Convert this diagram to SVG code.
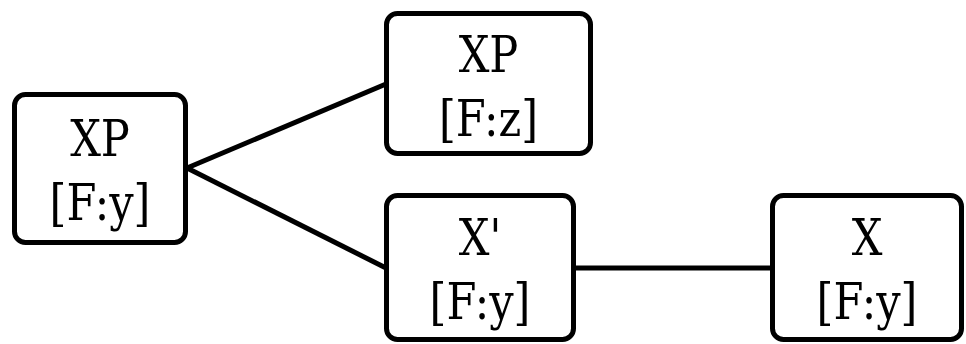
<svg xmlns="http://www.w3.org/2000/svg" width="966" height="344" viewBox="0 0 966 344">
<style>
.box{fill:#fff;stroke:#000;stroke-width:5}
.edge{stroke:#000;stroke-width:5;fill:none}
text{font-family:"DejaVu Serif","Liberation Serif",serif;font-stretch:condensed;font-size:51px;text-anchor:middle;fill:#000}
</style>
<rect width="966" height="344" fill="#fff"/>
<g id="connectors">
<line class="edge" x1="187" y1="168" x2="386" y2="84"/>
<line class="edge" x1="187" y1="168" x2="386" y2="268"/>
<line class="edge" x1="574" y1="268" x2="772" y2="268"/>
</g>
<g id="n1">
<rect class="box" x="14.5" y="94.5" width="171" height="148" rx="11"/>
<g transform="translate(100,0) scale(0.94,1)">
<text x="0" y="156">XP</text>
<text x="0" y="220">[F:y]</text>
</g>
</g>
<g id="n2">
<rect class="box" x="386.5" y="13.5" width="204" height="140" rx="11"/>
<g transform="translate(488.5,0) scale(0.94,1)">
<text x="0" y="72">XP</text>
<text x="0" y="136">[F:z]</text>
</g>
</g>
<g id="n3">
<rect class="box" x="386.5" y="195.5" width="187" height="144" rx="11"/>
<g transform="translate(480,0) scale(0.94,1)">
<text x="0" y="255">X'</text>
<text x="0" y="319">[F:y]</text>
</g>
</g>
<g id="n4">
<rect class="box" x="772.5" y="195.5" width="189" height="144" rx="11"/>
<g transform="translate(867,0) scale(0.94,1)">
<text x="0" y="255">X</text>
<text x="0" y="319">[F:y]</text>
</g>
</g>
</svg>
